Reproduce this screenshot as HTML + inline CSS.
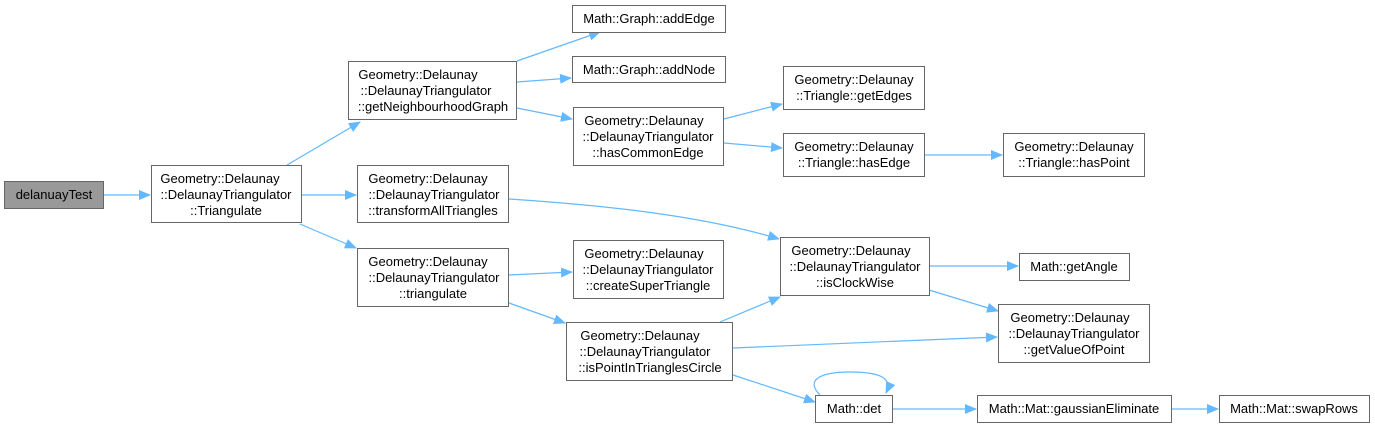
<!DOCTYPE html>
<html><head><meta charset="utf-8"><style>
html,body{margin:0;padding:0;background:#fff;}
text{font-family:"Liberation Sans",Arial,sans-serif;font-size:13px;fill:#000;}
.b{fill:#fff;stroke:#666;stroke-width:1;}
.e{fill:none;stroke:#63b8ff;stroke-width:1.2;}
</style></head><body>
<svg width="1375" height="427" viewBox="0 0 1375 427" xmlns="http://www.w3.org/2000/svg">
<defs><marker id="m" markerWidth="12" markerHeight="10" refX="11" refY="5" orient="auto" markerUnits="userSpaceOnUse"><path d="M0,0 L12,5 L0,10 z" fill="#63b8ff"/></marker></defs>
<g class="e">
<path d="M104,195 L150,195" marker-end="url(#m)"/>
<path d="M287,165 L360,122" marker-end="url(#m)"/>
<path d="M302,195 L356,195" marker-end="url(#m)"/>
<path d="M300,224 L356,248" marker-end="url(#m)"/>
<path d="M517,61 L600,32" marker-end="url(#m)"/>
<path d="M517,82 L571,78" marker-end="url(#m)"/>
<path d="M517,108 L572,119" marker-end="url(#m)"/>
<path d="M724,119 L782,104" marker-end="url(#m)"/>
<path d="M724,143 L782,148" marker-end="url(#m)"/>
<path d="M924,155 L1002,155" marker-end="url(#m)"/>
<path d="M509,199 C600,205 700,215 779,239" marker-end="url(#m)"/>
<path d="M509,275 L572,272" marker-end="url(#m)"/>
<path d="M509,303 L565,323" marker-end="url(#m)"/>
<path d="M720,322 L780,297" marker-end="url(#m)"/>
<path d="M733,348 L997,337" marker-end="url(#m)"/>
<path d="M733,375 L815,402" marker-end="url(#m)"/>
<path d="M929,266 L1018,266" marker-end="url(#m)"/>
<path d="M929,290 L998,311" marker-end="url(#m)"/>
<path d="M892,409 L976,409" marker-end="url(#m)"/>
<path d="M1171,409 L1218,409" marker-end="url(#m)"/>
<path d="M820,395 C805,380 820,372 850,372 C880,372 893,378 886,393" marker-end="url(#m)"/>
</g>
<g text-anchor="middle">
<rect x="4.5" y="181.5" width="99" height="27" fill="#999" stroke="#666"/>
<text x="54" y="199">delanuayTest</text>

<rect class="b" x="151.5" y="165.5" width="150" height="57"/>
<text x="220" y="183">Geometry::Delaunay</text><text x="226" y="199">::DelaunayTriangulator</text><text x="226" y="215">::Triangulate</text>

<rect class="b" x="348.5" y="61.5" width="168" height="58"/>
<text x="418" y="79">Geometry::Delaunay</text><text x="426" y="95">::DelaunayTriangulator</text><text x="433" y="111">::getNeighbourhoodGraph</text>

<rect class="b" x="357.5" y="165.5" width="151" height="57"/>
<text x="428" y="183">Geometry::Delaunay</text><text x="434" y="199">::DelaunayTriangulator</text><text x="433" y="215">::transformAllTriangles</text>

<rect class="b" x="357.5" y="248.5" width="151" height="58"/>
<text x="428" y="266">Geometry::Delaunay</text><text x="434" y="282">::DelaunayTriangulator</text><text x="433" y="298">::triangulate</text>

<rect class="b" x="572.5" y="5.5" width="153" height="27"/>
<text x="649" y="23">Math::Graph::addEdge</text>
<rect class="b" x="572.5" y="56.5" width="153" height="26"/>
<text x="649" y="74">Math::Graph::addNode</text>

<rect class="b" x="573.5" y="107.5" width="150" height="58"/>
<text x="644" y="125">Geometry::Delaunay</text><text x="648" y="141">::DelaunayTriangulator</text><text x="648" y="157">::hasCommonEdge</text>

<rect class="b" x="783.5" y="66.5" width="141" height="43"/>
<text x="854" y="84">Geometry::Delaunay</text><text x="854" y="100">::Triangle::getEdges</text>
<rect class="b" x="783.5" y="133.5" width="141" height="43"/>
<text x="854" y="151">Geometry::Delaunay</text><text x="854" y="167">::Triangle::hasEdge</text>
<rect class="b" x="1003.5" y="133.5" width="141" height="43"/>
<text x="1074" y="151">Geometry::Delaunay</text><text x="1074" y="167">::Triangle::hasPoint</text>

<rect class="b" x="573.5" y="240.5" width="150" height="58"/>
<text x="644" y="258">Geometry::Delaunay</text><text x="648" y="274">::DelaunayTriangulator</text><text x="648" y="290">::createSuperTriangle</text>

<rect class="b" x="780.5" y="237.5" width="149" height="58"/>
<text x="851" y="255">Geometry::Delaunay</text><text x="855" y="271">::DelaunayTriangulator</text><text x="855" y="287">::isClockWise</text>

<rect class="b" x="566.5" y="322.5" width="166" height="58"/>
<text x="640" y="340">Geometry::Delaunay</text><text x="645" y="356">::DelaunayTriangulator</text><text x="650" y="372">::isPointInTrianglesCircle</text>

<rect class="b" x="1019.5" y="253.5" width="110" height="27"/>
<text x="1074" y="271">Math::getAngle</text>

<rect class="b" x="998.5" y="304.5" width="151" height="58"/>
<text x="1070" y="322">Geometry::Delaunay</text><text x="1074" y="338">::DelaunayTriangulator</text><text x="1074" y="354">::getValueOfPoint</text>

<rect class="b" x="815.5" y="395.5" width="77" height="27"/>
<text x="854" y="413">Math::det</text>
<rect class="b" x="977.5" y="395.5" width="194" height="27"/>
<text x="1074" y="413">Math::Mat::gaussianEliminate</text>
<rect class="b" x="1219.5" y="395.5" width="150" height="27"/>
<text x="1294" y="413">Math::Mat::swapRows</text>
</g>
</svg>
</body></html>
